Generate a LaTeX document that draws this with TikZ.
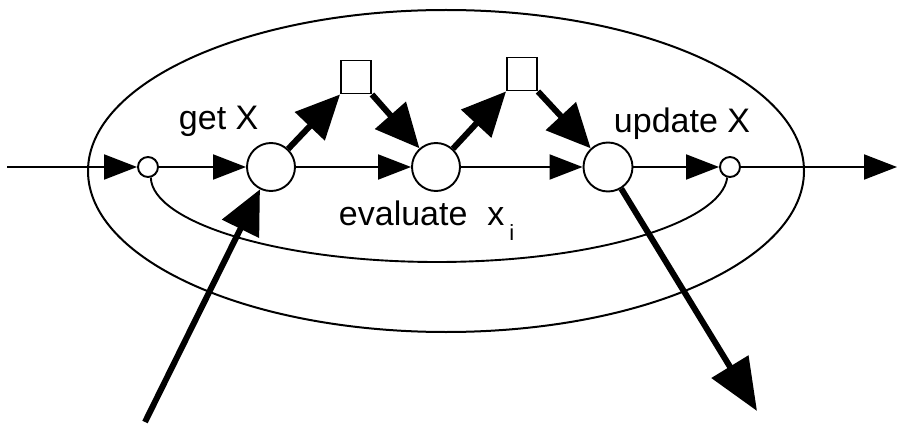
\documentclass[tikz,border=0pt]{standalone}
\usepackage{fontspec}
\setmainfont{Liberation Sans}
\usetikzlibrary{arrows.meta}
\begin{document}
\begin{tikzpicture}[x=1pt,y=-1pt,
  line width=1.9pt,
  flow/.style={-{Triangle[length=33pt,width=25pt]}},
  heavy/.style={line width=6pt,-{Triangle[length=44pt,width=40pt]}},
  proc/.style={circle,draw,fill=white,inner sep=0pt,minimum size=48pt},
  port/.style={circle,draw,fill=white,inner sep=0pt,minimum size=20pt},
  store/.style={rectangle,draw,fill=white,inner sep=0pt,minimum width=30pt,minimum height=33pt},
  lbl/.style={inner sep=0pt,anchor=base west,font=\fontsize{34}{40}\selectfont}]
\useasboundingbox (0,0) rectangle (897,425);

% outer boundary
\draw[line width=2pt] (446,171) ellipse [x radius=358pt, y radius=161pt];

% nodes
\node[port] (ls) at (148,167) {};
\node[proc] (A) at (271,167) {};
\node[proc] (B) at (436,167) {};
\node[proc,minimum size=49pt] (C) at (608,167) {};
\node[port] (rs) at (730,167) {};
\node[store] (s1) at (356,77) {};
\node[store] (s2) at (522,74) {};
\coordinate (src) at (7,167);
\coordinate (sink) at (897,167);
\coordinate (feed) at (145,422);
\coordinate (emit) at (757,411);
\coordinate (loopbot) at (437,262);

% return loop under the chain
\draw (ls.-75) .. controls (152,222) and (278,262) .. (loopbot)
      .. controls (596,262) and (722,222) .. (rs.-105);

% main chain
\draw[flow] (src) -- (ls);
\draw[flow] (ls) -- (A);
\draw[flow] (A) -- (B);
\draw[flow] (B) -- (C);
\draw[flow] (C) -- (rs);
\draw[flow] (rs) -- (sink);

% side paths through the stores
\draw[heavy] (A) -- (s1.south west);
\draw[heavy] (s1.south east) -- (B);
\draw[heavy] (B) -- (s2.south west);
\draw[heavy] (s2.south east) -- (C);

% external input and output
\draw[heavy] (feed) -- (A);
\draw[heavy,-{Triangle[length=52pt,width=42pt]}] (C) -- (emit);

% labels
\node[lbl] (getx) at (178,130) {get X};
\node[lbl] (updx) at (613,133) {update X};
\node[lbl] (evx) at (338,225) {evaluate\hspace{20pt}x\hspace{5pt}\raisebox{-15pt}{\fontsize{22}{26}\selectfont i}};
\end{tikzpicture}
\end{document}
